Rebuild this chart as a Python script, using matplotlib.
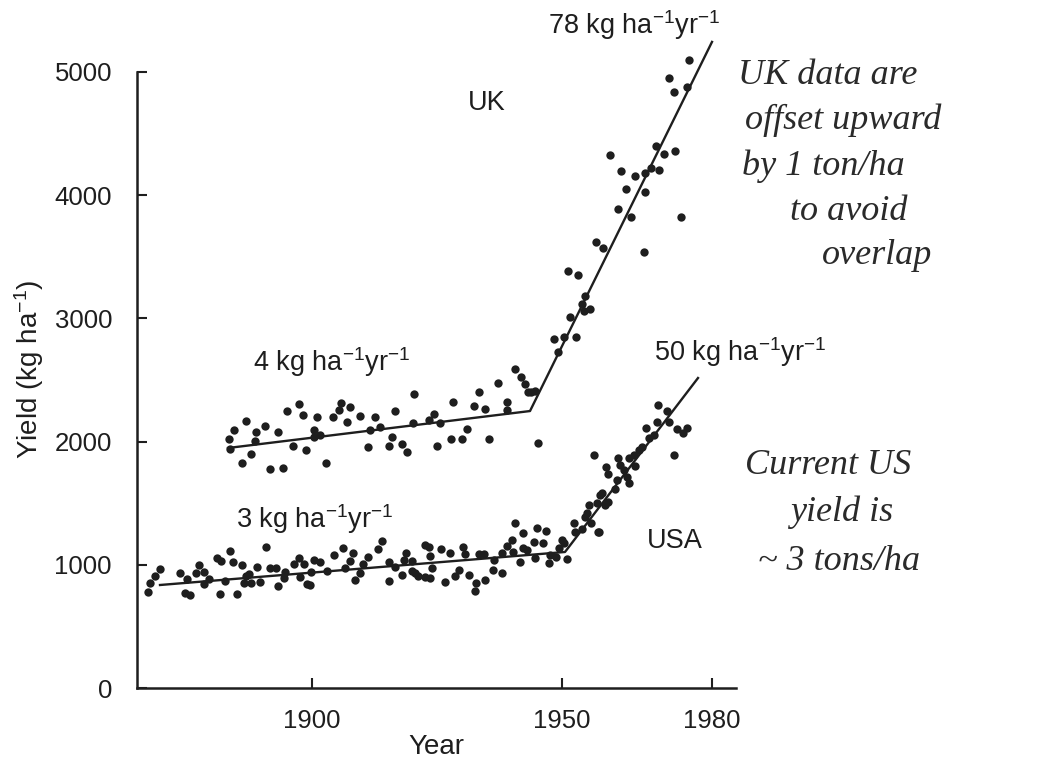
import matplotlib
matplotlib.use("Agg")
import matplotlib.pyplot as plt

# USA wheat yield, kg/ha
usa_year = [1867.1, 1867.5, 1868.6, 1869.6, 1873.6, 1874.9, 1874.6, 1875.5, 1876.7, 1877.3,
            1878.4, 1878.4, 1879.3, 1880.9, 1881.8, 1881.6, 1882.5, 1883.5, 1884.1, 1884.9,
            1885.9, 1886.3, 1886.8, 1887.3, 1887.8, 1888.9, 1889.6, 1890.8, 1891.6, 1892.8,
            1893.1, 1894.3, 1894.6, 1896.3, 1897.3, 1897.6, 1898.3, 1899.0, 1899.6, 1899.7,
            1900.4, 1901.6, 1902.9, 1904.3, 1906.1, 1906.6, 1907.5, 1908.1, 1908.6, 1909.6,
            1910.1, 1911.1, 1913.1, 1913.9, 1915.3, 1915.4, 1916.5, 1917.9, 1918.3, 1918.8,
            1919.9, 1919.9, 1920.6, 1921.1, 1922.6, 1923.3, 1923.5, 1922.6, 1923.9, 1923.6,
            1925.8, 1926.6, 1927.5, 1928.6, 1929.3, 1930.1, 1930.6, 1931.3, 1932.8, 1932.6,
            1933.3, 1934.3, 1934.6, 1936.1, 1936.3, 1937.9, 1937.9, 1938.9, 1939.9, 1940.6,
            1940.1, 1941.5, 1942.1, 1942.1, 1942.9, 1944.9, 1946.8, 1944.3, 1946.1, 1944.6,
            1947.3, 1947.6, 1948.8, 1949.3, 1949.9, 1950.9, 1950.3, 1952.3, 1952.6, 1953.9,
            1954.9, 1955.3, 1955.7, 1957.3, 1954.6, 1956.9, 1957.9, 1958.6, 1959.1, 1957.6,
            1960.6, 1958.8, 1959.1, 1961.1, 1961.6, 1960.9, 1962.3, 1962.9, 1963.3, 1963.3,
            1964.6, 1964.3, 1965.3, 1965.9, 1966.8, 1967.3, 1968.3, 1969.1, 1968.9, 1970.9,
            1971.3, 1972.9, 1974.1, 1974.9, 1972.3, 1956.4, 1957.1]
usa_yield = [777, 850, 909, 968, 931, 885, 774, 755, 936, 998,
             939, 844, 882, 1058, 1031, 760, 871, 1112, 1023, 760,
             998, 850, 912, 925, 855, 985, 858, 1147, 977, 977,
             828, 890, 944, 1004, 1058, 904, 1004, 844, 836, 944,
             1039, 1020, 952, 1080, 1134, 971, 1031, 1098, 877, 936,
             1010, 1066, 1126, 1196, 1025, 871, 985, 917, 1039, 1098,
             1033, 950, 931, 909, 1164, 1142, 1071, 904, 971, 890,
             1126, 863, 1098, 909, 958, 1142, 1088, 917, 855, 790,
             1088, 1088, 877, 958, 1039, 936, 1098, 1153, 1201, 1342,
             1107, 1025, 1261, 1139, 1120, 1296, 1274, 1183, 1180, 1053,
             1017, 1080, 1066, 1134, 1201, 1047, 1174, 1337, 1269, 1288,
             1418, 1485, 1337, 1269, 1391, 1499, 1580, 1485, 1512, 1567,
             1613, 1796, 1737, 1864, 1810, 1688, 1769, 1715, 1661, 1864,
             1804, 1891, 1932, 1959, 2108, 2027, 2054, 2297, 2162, 2251,
             2162, 2100, 2067, 2108, 1888, 1888, 1269]

# UK yield, shifted up by 1000 kg/ha in the original figure
uk_year = [1883.5, 1883.3, 1884.3, 1885.9, 1886.8, 1887.7, 1888.5, 1888.7, 1890.6, 1891.6,
           1893.1, 1894.1, 1894.9, 1896.1, 1897.4, 1898.1, 1898.8, 1900.3, 1900.3, 1900.9,
           1901.6, 1902.8, 1904.1, 1905.3, 1905.8, 1906.9, 1907.6, 1909.6, 1911.1, 1911.6,
           1912.5, 1913.6, 1915.4, 1915.9, 1916.5, 1917.9, 1918.9, 1920.1, 1920.3, 1924.3,
           1923.3, 1925.5, 1924.9, 1927.7, 1928.1, 1929.9, 1930.9, 1932.3, 1933.3, 1934.6,
           1935.4, 1937.1, 1938.9, 1938.9, 1940.5, 1941.7, 1942.6, 1943.1, 1944.6, 1945.1,
           1943.8, 1948.4, 1949.1, 1950.3, 1951.6, 1952.8, 1951.1, 1953.1, 1953.9, 1954.3,
           1954.6, 1955.6, 1956.8, 1958.1, 1959.6, 1961.1, 1961.7, 1962.8, 1963.7, 1964.6,
           1966.3, 1966.5, 1966.6, 1967.8, 1968.8, 1969.4, 1970.3, 1971.3, 1972.4, 1972.5,
           1973.8, 1974.9, 1975.3]
uk_yield = [1937, 2019, 2094, 1824, 2167, 1899, 2008, 2075, 2127, 1778,
            2075, 1783, 2248, 1967, 2303, 2216, 1932, 2094, 2034, 2202,
            2054, 1824, 2202, 2257, 2311, 2162, 2278, 2210, 1959, 2094,
            2197, 2121, 1967, 2040, 2251, 1978, 1918, 2154, 2384, 2224,
            2175, 2154, 1967, 2019, 2321, 2019, 2102, 2292, 2405, 2262,
            2021, 2478, 2321, 2257, 2589, 2521, 2468, 2400, 2411, 1991,
            2405, 2833, 2725, 2852, 3014, 2852, 3387, 3352, 3117, 3063,
            3182, 3074, 3618, 3569, 4326, 3885, 4196, 4050, 3826, 4156,
            3537, 4028, 4183, 4224, 4399, 4205, 4334, 4954, 4840, 4359,
            3826, 4881, 5097]

# two-segment trend lines
usa_fit_year = [1869.6, 1950.6, 1977.2]
usa_fit_yield = [836, 1104, 2516]
uk_fit_year = [1883.2, 1943.6, 1980.0]
uk_fit_yield = [1948, 2248, 5244]

x_ticks = [1900, 1950, 1980]
y_ticks = [0, 1000, 2000, 3000, 4000, 5000]

ink = "#1e1e1e"
plt.rcParams["font.family"] = ["Liberation Sans", "DejaVu Sans"]
plt.rcParams["mathtext.fontset"] = "custom"
plt.rcParams["mathtext.rm"] = "Liberation Sans"
plt.rcParams["mathtext.it"] = "Liberation Sans:italic"

W, H = 1050, 763
fig = plt.figure(figsize=(W / 100, H / 100), dpi=100)
ax = fig.add_axes([137 / W, 75 / H, 599 / W, 678 / H])

ax.scatter(usa_year, usa_yield, s=36, color=ink, zorder=3, linewidths=0)
ax.scatter(uk_year, uk_yield, s=36, color=ink, zorder=3, linewidths=0)
ax.plot(usa_fit_year, usa_fit_yield, color=ink, lw=1.7)
ax.plot(uk_fit_year, uk_fit_yield, color=ink, lw=1.7)

ax.set_xlim(1865, 1984.8)
ax.set_ylim(0, 5503)
ax.spines["top"].set_visible(False)
ax.spines["right"].set_visible(False)
ax.spines["left"].set_bounds(0, 5000)
for sp in ("left", "bottom"):
    ax.spines[sp].set_linewidth(1.8)
    ax.spines[sp].set_color(ink)

ax.set_xticks(x_ticks)
ax.set_yticks(y_ticks)
ax.tick_params(direction="in", length=7, width=1.5, color=ink, labelcolor=ink,
               labelsize=18.5)
ax.tick_params(axis="y", pad=18)
ax.tick_params(axis="x", pad=15)

ax.set_xlabel("Year", fontsize=20, color=ink, labelpad=1)
ax.set_ylabel(r"Yield (kg ha$^{\mathrm{-1}}$)", fontsize=20, color=ink)
ax.yaxis.set_label_coords(-0.152, 0.47)

lab = dict(fontsize=19.5, color=ink, ha="center", va="center", clip_on=False)
ax.text(1964.4, 5380, r"78 kg ha$^{\mathrm{-1}}$yr$^{\mathrm{-1}}$", **lab)
ax.text(1935.0, 4750, "UK", **lab)
ax.text(1904.0, 2646, r"4 kg ha$^{\mathrm{-1}}$yr$^{\mathrm{-1}}$", **lab)
ax.text(1985.6, 2727, r"50 kg ha$^{\mathrm{-1}}$yr$^{\mathrm{-1}}$", **lab)
ax.text(1900.6, 1372, r"3 kg ha$^{\mathrm{-1}}$yr$^{\mathrm{-1}}$", **lab)
ax.text(1972.6, 1190, "USA", **lab)

# handwritten notes on the right
note = dict(fontsize=26, color="#2a2a2a", style="italic", family="Liberation Serif",
            ha="left", va="center")
notes1 = [("UK data are", 738, 75), ("offset upward", 745, 120), ("by 1 ton/ha", 742, 166),
          ("to avoid", 790, 212), ("overlap", 822, 255)]
notes2 = [("Current US", 745, 465), ("yield is", 790, 512), ("~ 3 tons/ha", 758, 562)]
for txt, px, py in notes1 + notes2:
    fig.text(px / W, 1 - py / H, txt, **note)

fig.savefig("out.png", dpi=100)
